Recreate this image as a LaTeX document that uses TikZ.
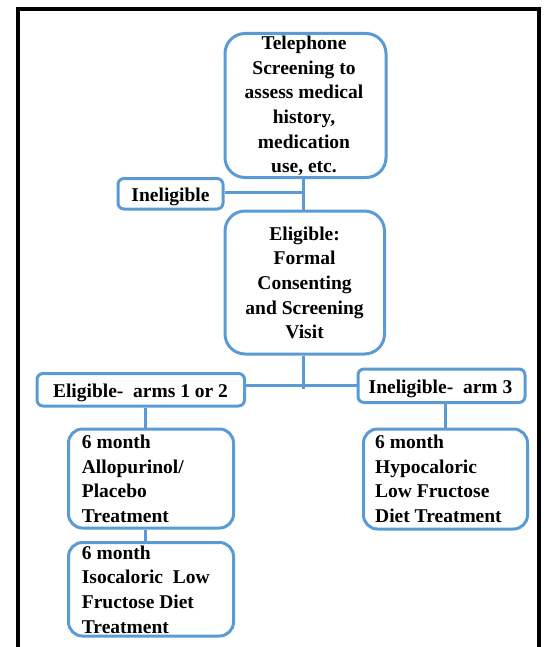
\documentclass[tikz,border=0pt]{standalone}
\usepackage{fontspec}
\setmainfont{Liberation Serif}
\definecolor{boxblue}{RGB}{91,155,213}
\newcommand{\firstln}{\rule{0pt}{14pt}}
\begin{document}
\begin{tikzpicture}[x=1pt,y=-1pt,
  box/.style={draw=boxblue, line width=3pt, rounded corners=#1, inner sep=0pt},
  conn/.style={draw=boxblue, line width=3pt},
  txt/.style={inner sep=0pt, text=black, font=\fontsize{19.5}{24.6}\selectfont\bfseries},
  frame/.style={draw=black, line width=4pt}]
\useasboundingbox (0,0) rectangle (546,647);
\clip (0,0) rectangle (546,647);
\draw[frame] (18,9.3) rectangle (539,700);

% boxes
\node[box=20pt, minimum width=161pt, minimum height=144pt] (tel) at (305.5,105.5) {};
\node[box=6pt, minimum width=105pt, minimum height=30.5pt] (inel) at (170.5,193.75) {};
\node[box=20pt, minimum width=159.5pt, minimum height=143pt] (elig) at (304.75,282.5) {};
\node[box=6pt, minimum width=207.5pt, minimum height=32.5pt] (arms) at (140.75,389.75) {};
\node[box=6pt, minimum width=167pt, minimum height=33.5pt] (arm3) at (441.5,385.75) {};
\node[box=14pt, minimum width=165pt, minimum height=99pt] (allo) at (151,478.5) {};
\node[box=14pt, minimum width=165pt, minimum height=93.5pt] (iso) at (151,589.25) {};
\node[box=14pt, minimum width=164pt, minimum height=100pt] (hypo) at (445.5,479) {};

% connector guide coordinates
\coordinate (sp) at (303,0);
\coordinate (iy) at (0,192);
\coordinate (ly) at (0,389);
\coordinate (hy) at (0,385);
\coordinate (lx) at (145,0);
\coordinate (rx) at (445,0);

\draw[conn] (sp |- tel.south) -- (sp |- elig.north);
\draw[conn] (inel.east |- iy) -- (sp |- iy);
\draw[conn] (sp |- elig.south) -- (sp |- ly);
\draw[conn] (arms.east |- hy) -- (arm3.west |- hy);
\draw[conn] (lx |- arms.south) -- (lx |- allo.north);
\draw[conn] (lx |- allo.south) -- (lx |- iso.north);
\draw[conn] (rx |- arm3.south) -- (rx |- hypo.north);

% texts
\node[txt, align=center, anchor=north] (teltext) at (304,35.5)
  {\firstln Telephone\\Screening to\\assess medical\\history,\\medication\\use, etc.};
\node[txt, anchor=base] (ineltext) at (170.5,201) {Ineligible};
\node[txt, align=center, anchor=north] (eligtext) at (304.6,226)
  {\firstln Eligible:\\Formal\\Consenting\\and Screening\\Visit};
\node[txt, anchor=base] (armstext) at (140.5,397.3) {Eligible-\ \ arms 1 or 2};
\node[txt, anchor=base] (arm3text) at (440.5,393.3) {Ineligible-\ \ arm 3};
\node[txt, align=left, anchor=north west] (allotext) at (81.7,434.3)
  {\firstln 6 month\\Allopurinol/\\Placebo\\Treatment};
\node[txt, align=left, anchor=north west] (isotext) at (81.7,545)
  {\firstln 6 month\\Isocaloric\ \ Low\\Fructose Diet\\Treatment};
\node[txt, align=left, anchor=north west] (hypotext) at (375,434.3)
  {\firstln 6 month\\Hypocaloric\\Low Fructose\\Diet Treatment};
\end{tikzpicture}
\end{document}
